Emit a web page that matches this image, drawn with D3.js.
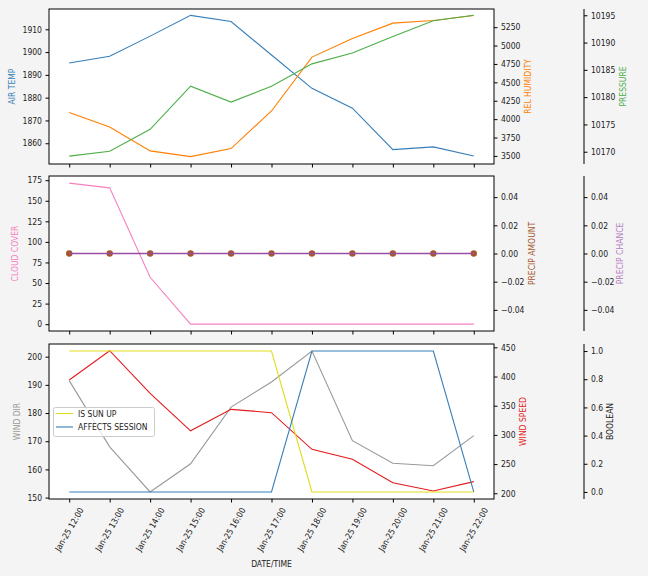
<!DOCTYPE html>
<html><head><meta charset="utf-8">
<script src="https://cdn.jsdelivr.net/npm/d3@7"></script>
<style>
html,body{margin:0;padding:0;background:#f4f4f4;}
svg text{font-family:"DejaVu Sans Condensed","DejaVu Sans",sans-serif;font-stretch:condensed;}
</style></head>
<body>
<svg id="chart" width="648" height="576"></svg>
<script>
// ---- data ----
const times = ["2024-01-25T12:00","2024-01-25T13:00","2024-01-25T14:00","2024-01-25T15:00","2024-01-25T16:00","2024-01-25T17:00","2024-01-25T18:00","2024-01-25T19:00","2024-01-25T20:00","2024-01-25T21:00","2024-01-25T22:00"];
const airTemp = [1895.2,1898.2,1907.0,1916.1,1913.4,1898.7,1884.1,1875.4,1857.2,1858.4,1854.4];
const relHumidity = [4089,3893,3568,3491,3600,4111,4843,5097,5305,5341,5409];
const pressure = [10169.2,10170.1,10174.1,10182.0,10179.1,10182.0,10186.1,10188.1,10191.1,10194.0,10195.0];
const cloudCover = [171.4,165.7,57,0,0,0,0,0,0,0,0];
const precipAmount = [0,0,0,0,0,0,0,0,0,0,0];
const precipChance = [0,0,0,0,0,0,0,0,0,0,0];
const windDir = [191.5,168,152,162,182.1,191,202,170.2,162.2,161.3,172];
const windSpeed = [394,444.2,371,307,343.8,338,275.3,258.2,218,204,220];
const isSunUp = [1,1,1,1,1,1,0,0,0,0,0];
const affectsSession = [0,0,0,0,0,0,1,1,1,1,0];
const tickAirTemp = [1860,1870,1880,1890,1900,1910];
const tickHumidity = [3500,3750,4000,4250,4500,4750,5000,5250];
const tickPressure = [10170,10175,10180,10185,10190,10195];
const tickCloud = [0,25,50,75,100,125,150,175];
const tickPrecip = [-0.04,-0.02,0,0.02,0.04];
const tickWindDir = [150,160,170,180,190,200];
const tickWindSpeed = [200,250,300,350,400,450];
const tickBool = [0,0.2,0.4,0.6,0.8,1.0];

const parse = d3.timeParse("%Y-%m-%dT%H:%M");
const dates = times.map(parse);

const svg = d3.select("#chart");
const X0 = 49, X1 = 494, SP3 = 584, FS = 8.5;
const x = d3.scaleTime()
  .domain([d3.timeMinute.offset(dates[0], -30), d3.timeMinute.offset(dates[dates.length-1], 30)])
  .range([X0, X1]);

const C = {blue:"#377eb8", orange:"#ff7f00", green:"#4daf4a", pink:"#f781bf", brown:"#a65628",
  purple:"#984ea3", grey:"#999999", red:"#e41a1c", yellow:"#e0dc1c"};

function styleAxis(g){
  g.selectAll("text").attr("font-size", FS).attr("font-family", null).attr("fill","#222");
  g.selectAll("line").attr("stroke","#000");
  g.select(".domain").remove();
  g.attr("font-family", null).attr("font-size", null);
}

function panel(y0, y1, cfg){
  const g = svg.append("g");
  g.append("rect").attr("x",X0).attr("y",y0).attr("width",X1-X0).attr("height",y1-y0).attr("fill","#fff");
  const yl = d3.scaleLinear().domain(cfg.left.domain).range([y1,y0]);
  const yr = d3.scaleLinear().domain(cfg.right.domain).range([y1,y0]);
  const y3 = d3.scaleLinear().domain(cfg.third.domain).range([y1,y0]);
  const clip = "clip"+y0;
  svg.append("clipPath").attr("id",clip).append("rect").attr("x",X0).attr("y",y0).attr("width",X1-X0).attr("height",y1-y0);
  const plot = g.append("g").attr("clip-path","url(#"+clip+")");
  const scales = {left:yl, right:yr, third:y3};
  cfg.series.forEach(s => {
    const sc = scales[s.axis];
    if (s.type === "line") {
      plot.append("path").datum(s.values)
        .attr("fill","none").attr("stroke",s.color).attr("stroke-width",s.w || 1.1)
        .attr("d", d3.line().x((d,i)=>x(dates[i])).y(d=>sc(d)));
    }
    if (s.type === "dots") {
      plot.selectAll(null).data(s.values).join("circle")
        .attr("cx",(d,i)=>x(dates[i])).attr("cy",d=>sc(d)).attr("r",3.2).attr("fill",s.color);
    }
  });
  g.append("rect").attr("x",X0).attr("y",y0).attr("width",X1-X0).attr("height",y1-y0)
    .attr("fill","none").attr("stroke","#000").attr("stroke-width",1);
  // axes
  g.append("g").attr("transform",`translate(${X0},0)`)
    .call(d3.axisLeft(yl).tickValues(cfg.left.ticks).tickFormat(d3.format(cfg.left.fmt)).tickSize(3.5).tickPadding(3.5)).call(styleAxis);
  g.append("g").attr("transform",`translate(${X1},0)`)
    .call(d3.axisRight(yr).tickValues(cfg.right.ticks).tickFormat(d3.format(cfg.right.fmt)).tickSize(3.5).tickPadding(3.5)).call(styleAxis);
  g.append("line").attr("x1",SP3).attr("x2",SP3).attr("y1",y0).attr("y2",y1).attr("stroke","#000").attr("stroke-width",1);
  g.append("g").attr("transform",`translate(${SP3},0)`)
    .call(d3.axisRight(y3).tickValues(cfg.third.ticks).tickFormat(d3.format(cfg.third.fmt)).tickSize(3.5).tickPadding(3.5)).call(styleAxis);
  g.append("g").attr("transform",`translate(0,${y1})`)
    .call(d3.axisBottom(x).tickValues(dates).tickFormat("").tickSize(3.5)).call(styleAxis);
  // labels
  const yc = (y0+y1)/2;
  [[cfg.left,cfg.left.lx],[cfg.right,cfg.right.lx],[cfg.third,cfg.third.lx]].forEach(([a,lx])=>{
    g.append("text").attr("transform",`translate(${lx},${yc}) rotate(-90)`)
      .attr("text-anchor","middle").attr("dominant-baseline","central")
      .attr("font-size",FS).attr("fill",a.color).text(a.label);
  });
  return g;
}

panel(9,164,{
  left:{domain:[1850.9,1918.9],ticks:tickAirTemp,fmt:"d",label:"AIR TEMP",color:C.blue,lx:12},
  right:{domain:[3390,5497],ticks:tickHumidity,fmt:"d",label:"REL HUMIDITY",color:C.orange,lx:528},
  third:{domain:[10167.75,10196.15],ticks:tickPressure,fmt:"d",label:"PRESSURE",color:C.green,lx:623},
  series:[
    {type:"line",axis:"left",values:airTemp,color:C.blue},
    {type:"line",axis:"right",values:relHumidity,color:C.orange},
    {type:"line",axis:"third",values:pressure,color:C.green}
  ]
});

panel(176,331,{
  left:{domain:[-8.3,180.1],ticks:tickCloud,fmt:"d",label:"CLOUD COVER",color:C.pink,lx:15},
  right:{domain:[-0.055,0.055],ticks:tickPrecip,fmt:".2f",label:"PRECIP AMOUNT",color:C.brown,lx:532},
  third:{domain:[-0.055,0.055],ticks:tickPrecip,fmt:".2f",label:"PRECIP CHANCE",color:"#b57cbf",lx:620},
  series:[
    {type:"line",axis:"left",values:cloudCover,color:C.pink},
    {type:"dots",axis:"right",values:precipAmount,color:C.brown},
    {type:"line",axis:"third",values:precipChance,color:C.purple,w:1.4}
  ]
});

panel(344,499,{
  left:{domain:[149.5,204.5],ticks:tickWindDir,fmt:"d",label:"WIND DIR",color:C.grey,lx:16.5},
  right:{domain:[190.2,455.7],ticks:tickWindSpeed,fmt:"d",label:"WIND SPEED",color:C.red,lx:523},
  third:{domain:[-0.05,1.05],ticks:tickBool,fmt:".1f",label:"BOOLEAN",color:"#222",lx:610},
  series:[
    {type:"line",axis:"left",values:windDir,color:C.grey},
    {type:"line",axis:"right",values:windSpeed,color:C.red},
    {type:"line",axis:"third",values:isSunUp,color:C.yellow},
    {type:"line",axis:"third",values:affectsSession,color:C.blue}
  ]
});

// x tick labels (rotated)
const fmt = d3.timeFormat("%b-%d %H:%M");
const sin60 = Math.sin(Math.PI/3), cos60 = 0.5;
dates.forEach(d=>{
  const t = svg.append("text").attr("text-anchor","middle").attr("dominant-baseline","central")
    .attr("font-size",FS).attr("fill","#222").text(fmt(d));
  const L = t.node().getComputedTextLength();
  const h = L*sin60 + FS*1.1*cos60;
  t.attr("transform",`translate(${x(d)},${506 + h/2}) rotate(-60)`);
});
svg.append("text").attr("x",(X0+X1)/2).attr("y",566.5).attr("text-anchor","middle")
  .attr("font-size",FS).attr("fill","#222").text("DATE/TIME");

// legend
const lg = svg.append("g");
lg.append("rect").attr("x",53.5).attr("y",407.5).attr("width",101).attr("height",29).attr("rx",2)
  .attr("fill","#fff").attr("fill-opacity",0.8).attr("stroke","#ccc");
[["IS SUN UP",C.yellow,413.5],["AFFECTS SESSION",C.blue,427]].forEach(([lab,col,yy])=>{
  lg.append("line").attr("x1",56).attr("x2",73).attr("y1",yy).attr("y2",yy).attr("stroke",col).attr("stroke-width",1.1);
  lg.append("text").attr("x",78).attr("y",yy).attr("dominant-baseline","central").attr("font-size",FS).attr("fill","#222").text(lab);
});
</script>
</body></html>
